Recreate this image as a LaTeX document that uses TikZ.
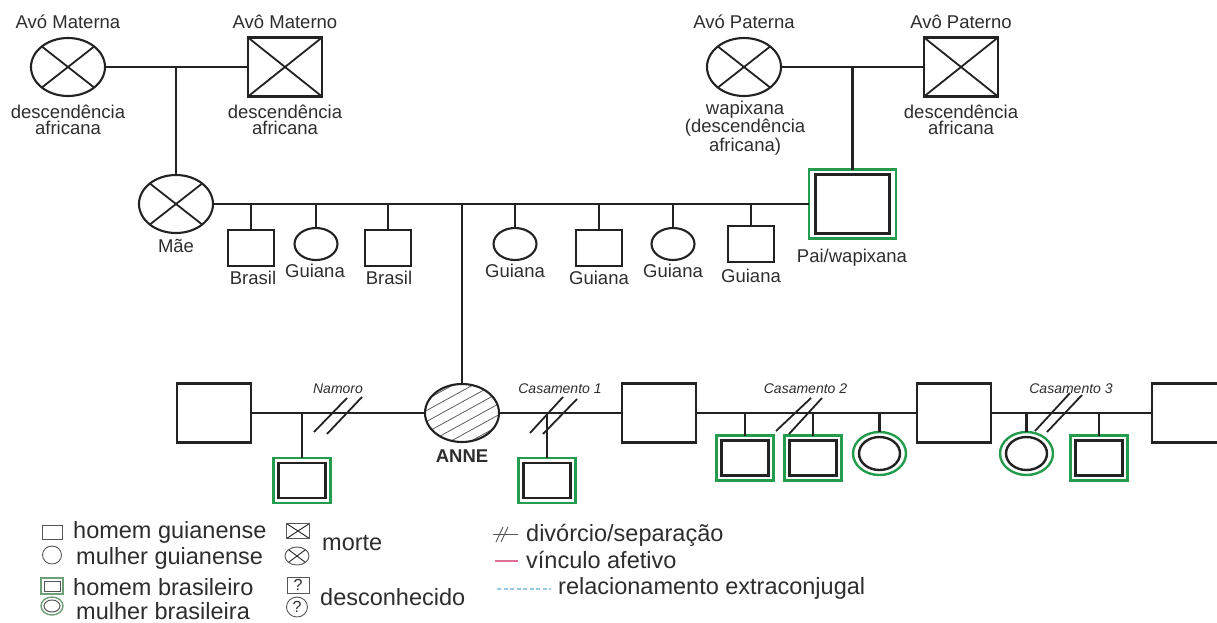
\documentclass[tikz,border=0pt]{standalone}
\usepackage{fontspec}
\setmainfont{Liberation Sans}
\usetikzlibrary{shapes.geometric,calc}

\definecolor{kin}{RGB}{34,34,34}
\definecolor{ink}{RGB}{45,45,45}
\definecolor{brgreen}{RGB}{36,156,78}
\definecolor{hatchgrey}{RGB}{95,95,95}
\definecolor{bondpink}{RGB}{226,112,150}
\definecolor{extrablue}{RGB}{150,200,232}
\definecolor{legendgrey}{RGB}{85,85,85}
\definecolor{legendgreen}{RGB}{110,160,120}

\tikzset{
  sym/.style={draw=kin, line width=2.1pt, inner sep=0pt, outer sep=0pt},
  bigman/.style={sym, rectangle, minimum width=74pt, minimum height=59pt},
  bigwoman/.style={sym, ellipse, minimum width=74pt, minimum height=58pt},
  smallman/.style={sym, rectangle, minimum width=46pt, minimum height=36pt},
  smallwoman/.style={sym, ellipse, minimum width=43pt, minimum height=32pt},
  deceased/.style={path picture={
      \draw[draw=kin, line width=#1]
        (path picture bounding box.north west) -- (path picture bounding box.south east)
        (path picture bounding box.north east) -- (path picture bounding box.south west);}},
  deceased/.default=1.8pt,
  brman/.style={sym, draw=brgreen, line width=2.4pt, rectangle, minimum width=57pt, minimum height=45pt,
    path picture={\draw[draw=kin, line width=2.4pt]
      ([xshift=5pt,yshift=-5pt]path picture bounding box.north west) rectangle
      ([xshift=-5pt,yshift=5pt]path picture bounding box.south east);}},
  brwoman/.style={sym, draw=brgreen, line width=2.4pt, ellipse, minimum width=53pt, minimum height=43pt,
    path picture={\draw[draw=kin, line width=2.4pt]
      (path picture bounding box.center) ellipse (20.5pt and 16.5pt);}},
  paibox/.style={sym, draw=brgreen, line width=2.4pt, rectangle, minimum width=87pt, minimum height=69pt,
    path picture={\draw[draw=kin, line width=2.4pt]
      ([xshift=6.5pt,yshift=-5pt]path picture bounding box.north west) rectangle
      ([xshift=-6.5pt,yshift=5pt]path picture bounding box.south east);}},
  hatched/.style={path picture={
      \foreach \c in {-44,-33,...,44}{
        \draw[draw=hatchgrey, line width=0.8pt]
          ($(path picture bounding box.center)+(-50,27.5+\c)$) -- ++(100,-55);}}},
  kinline/.style={draw=kin, line width=2.1pt},
  slash/.style={draw=kin, line width=1.8pt},
  lbl/.style={font=\fontsize{18.5}{16.5}\selectfont, text=ink, align=center, inner sep=0pt},
  annelbl/.style={font=\fontsize{18.5}{16.5}\selectfont\bfseries, text=ink, inner sep=0pt},
  marr/.style={font=\fontsize{14}{16}\selectfont\itshape, text=ink, inner sep=0pt},
  leg/.style={font=\fontsize{23.5}{26}\selectfont, text=ink, anchor=west, inner sep=0pt},
  legsym/.style={draw=legendgrey, line width=0.9pt, inner sep=0pt, outer sep=0pt},
  legman/.style={legsym, rectangle, minimum width=20pt, minimum height=14pt},
  legwoman/.style={legsym, ellipse, minimum width=19pt, minimum height=18pt},
  legbrman/.style={legsym, draw=legendgreen, line width=1.4pt, rectangle, minimum width=22pt, minimum height=16pt,
    path picture={\draw[draw=legendgrey, line width=1pt]
      ([xshift=3pt,yshift=-3pt]path picture bounding box.north west) rectangle
      ([xshift=-3pt,yshift=3pt]path picture bounding box.south east);}},
  legbrwoman/.style={legsym, draw=legendgreen, line width=1.4pt, ellipse, minimum width=22pt, minimum height=18pt,
    path picture={\draw[draw=legendgrey, line width=1pt]
      (path picture bounding box.center) ellipse (8pt and 6pt);}},
  legq/.style={font=\fontsize{16}{16}\selectfont, text=ink},
}

\begin{document}
\begin{tikzpicture}[x=1pt, y=-1pt]
\path[use as bounding box] (0,0) rectangle (1217,622);
\clip (0,0) rectangle (1217,622);

% ---------- grandparents ----------
\node[bigwoman, deceased] (avom) at (68,67) {};
\node[bigman, deceased]   (avoM) at (285,67) {};
\node[bigwoman, deceased] (avop) at (744,67) {};
\node[bigman, deceased]   (avoP) at (961,67) {};

\node[lbl] (tavom) at (68,22)  {Avó Materna};
\node[lbl] (tavoM) at (285,22) {Avô Materno};
\node[lbl] (tavop) at (744,22) {Avó Paterna};
\node[lbl] (tavoP) at (961,22) {Avô Paterno};

\node[lbl] (davom) at (68,120)  {descendência\\africana};
\node[lbl] (davoM) at (285,120) {descendência\\africana};
\node[lbl] (davop) at (745,128) {wapixana\\(descendência\\africana)};
\node[lbl] (davoP) at (961,120) {descendência\\africana};

\draw[kinline] (avom.east) -- (avoM.west);
\draw[kinline] (avop.east) -- (avoP.west);

% ---------- parents ----------
\node[bigwoman, deceased] (mae) at (176,204) {};
\node[paibox] (pai) at (852.5,204) {};
\node[lbl] (tmae) at (176,246) {Mãe};
\node[lbl] (tpai) at (852,258) {Pai/wapixana};

\draw[kinline] (mae.north) -- (mae.north |- avom.east);
\draw[kinline] (pai.north) -- (pai.north |- avop.east);
\draw[kinline] (mae.east) -- (pai.west);

% ---------- siblings ----------
\node[smallman]   (s1) at (251,248) {};
\node[smallwoman] (s2) at (316,244) {};
\node[smallman]   (s3) at (388,248) {};
\node[smallwoman] (s4) at (515,244) {};
\node[smallman]   (s5) at (599,248) {};
\node[smallwoman] (s6) at (673,244) {};
\node[smallman]   (s7) at (751,244) {};

\foreach \s in {s1,s2,s3,s4,s5,s6,s7}
  \draw[kinline] (\s.north) -- (\s.north |- mae.east);

\node[lbl] (ts1) at (253,278) {Brasil};
\node[lbl] (ts2) at (315,271) {Guiana};
\node[lbl] (ts3) at (389,278) {Brasil};
\node[lbl] (ts4) at (515,271) {Guiana};
\node[lbl] (ts5) at (599,278) {Guiana};
\node[lbl] (ts6) at (673,271) {Guiana};
\node[lbl] (ts7) at (751,276) {Guiana};

% ---------- Anne and partners ----------
\node[bigwoman, hatched] (anne) at (462,413) {};
\node[annelbl] (tanne) at (462,456) {ANNE};
\draw[kinline] (anne.north) -- (anne.north |- mae.east);

\node[bigman] (b1) at (214,413) {};
\node[bigman] (h1) at (659,413) {};
\node[bigman] (h2) at (954,413) {};
\node[bigman] (h3) at (1189,413) {};

\draw[kinline] (b1.east) -- (anne.west);
\draw[kinline] (anne.east) -- (h1.west);
\draw[kinline] (h1.east) -- (h2.west);
\draw[kinline] (h2.east) -- (h3.west);

% children of each union
\node[brman]   (c1) at (302,480.5) {};
\node[brman]   (c2) at (547,480.5) {};
\node[brman]   (c3) at (745,458) {};
\node[brman]   (c4) at (813,458) {};
\node[brwoman] (c5) at (879.5,453.5) {};
\node[brwoman] (c6) at (1026.5,453.5) {};
\node[brman]   (c7) at (1099,458) {};

\draw[kinline] (c1.north) -- (c1.north |- b1.east);
\draw[kinline] (c2.north) -- (c2.north |- anne.east);
\draw[kinline] (c3.north) -- (c3.north |- h1.east);
\draw[kinline] (c4.north) -- (c4.north |- h1.east);
\draw[kinline] (c5.north) -- (c5.north |- h1.east);
\draw[kinline] (c6.north) -- (c6.north |- h2.east);
\draw[kinline] (c7.north) -- (c7.north |- h2.east);

% separation marks and union labels
\draw[slash] (314,432) -- (347,398);
\draw[slash] (327,434) -- (362,397);
\node[marr] (tnam) at (338,389) {Namoro};

\draw[slash] (530,433) -- (563,397);
\draw[slash] (543,434) -- (577,399);
\node[marr] (tcas1) at (560,389) {Casamento 1};

\draw[slash] (776,431) -- (811,398);
\draw[slash] (789,434) -- (822,398);
\node[marr] (tcas2) at (805.5,389) {Casamento 2};

\draw[slash] (1035,431) -- (1070,393);
\draw[slash] (1047,432) -- (1082,395);
\node[marr] (tcas3) at (1071,389) {Casamento 3};

% ---------- legend ----------
\node[legman]     (l1) at (52,532) {};
\node[legwoman]   (l2) at (52,555) {};
\node[legbrman]   (l3) at (52,586) {};
\node[legbrwoman] (l4) at (52,606) {};
\node[leg] (tl1) at (73,532) {homem guianense};
\node[leg] (tl2) at (76,558) {mulher guianense};
\node[leg] (tl3) at (73,587) {homem brasileiro};
\node[leg] (tl4) at (76,611) {mulher brasileira};

\node[legman, minimum width=23pt, minimum height=15pt, deceased=0.9pt] (l5) at (298,531) {};
\node[legwoman, minimum width=24pt, minimum height=18pt, deceased=0.9pt] (l6) at (297,556) {};
\node[leg] (tl5) at (322,543) {morte};

\node[legman, minimum width=22pt, minimum height=16pt, legq] (l7) at (298,585) {?};
\node[legwoman, minimum width=21pt, minimum height=20pt, legq] (l8) at (297,607) {?};
\node[leg] (tl6) at (320,597) {desconhecido};

% separation, bond and extramarital samples
\coordinate (dv1) at (493,534);
\coordinate (dv2) at (518,534);
\draw[draw=legendgrey, line width=0.9pt] (dv1) -- (dv2);
\draw[draw=legendgrey, line width=0.9pt] (496,542) -- (503,527);
\draw[draw=legendgrey, line width=0.9pt] (501,542) -- (508,527);
\node[leg] (tl7) at (526,535) {divórcio/separação};

\coordinate (pk1) at (495,561);
\coordinate (pk2) at (518,561);
\draw[draw=bondpink, line width=1.2pt] (pk1) -- (pk2);
\node[leg] (tl8) at (526,560) {vínculo afetivo};

\coordinate (eb1) at (497,589);
\coordinate (eb2) at (551,589);
\draw[draw=extrablue, line width=1.2pt, dash pattern=on 4pt off 2.5pt] (eb1) -- (eb2);
\node[leg] (tl9) at (558,588) {relacionamento extraconjugal};
\end{tikzpicture}
\end{document}
